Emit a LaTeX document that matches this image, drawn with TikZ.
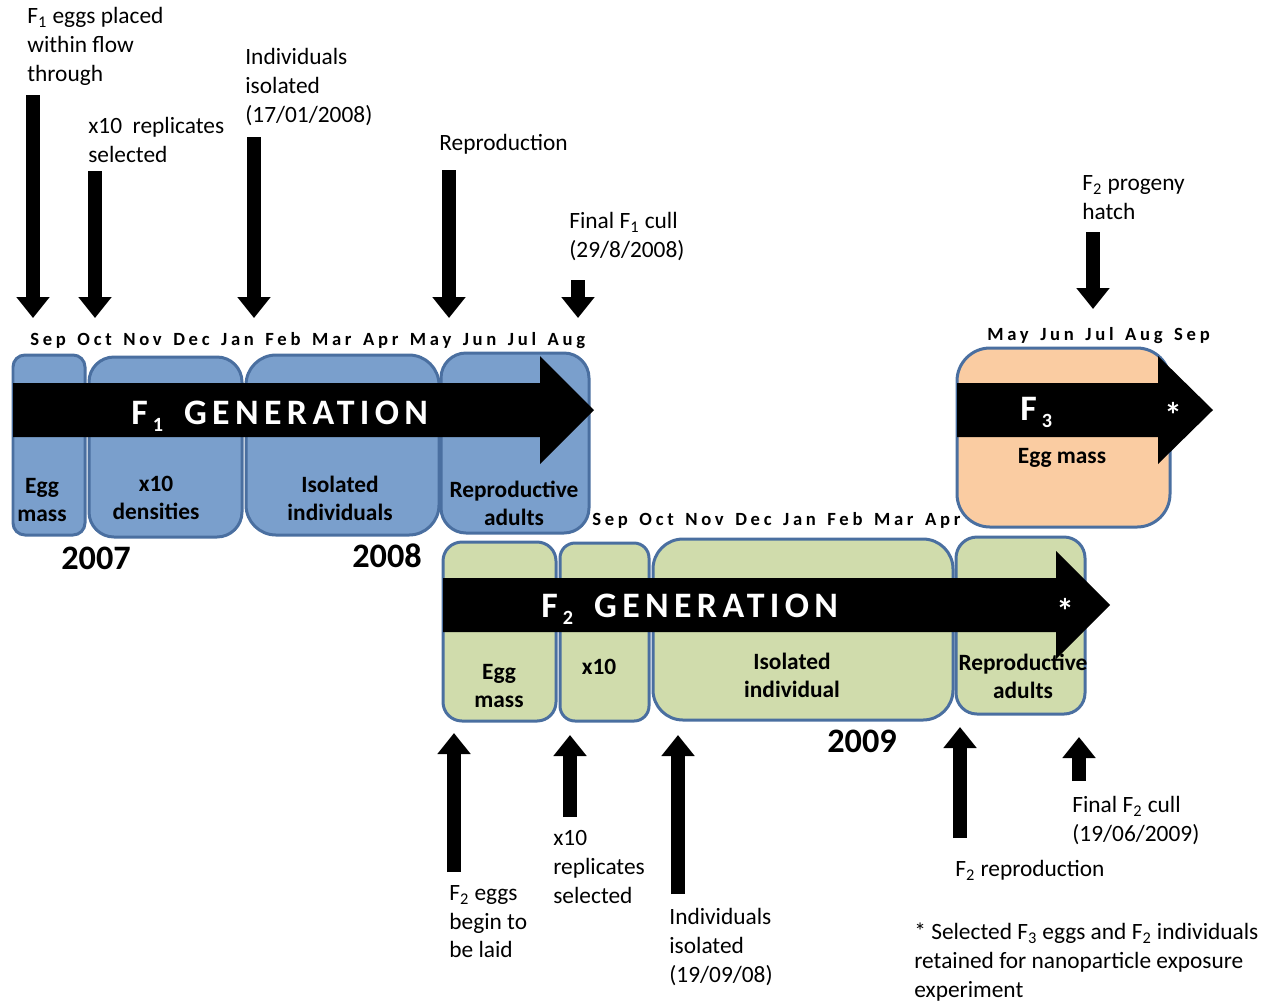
\documentclass[tikz,border=0pt]{standalone}
\usepackage{fontspec}
\setmainfont{Carlito}
\newfontfamily\widefont[LetterSpace=15]{Carlito}
\newfontfamily\monthfont[LetterSpace=20,WordSpace=1.45]{Carlito}
\usetikzlibrary{arrows.meta,fit}
\definecolor{edgeblue}{RGB}{74,111,160}
\definecolor{fillblue}{RGB}{122,159,204}
\definecolor{fillgreen}{RGB}{208,220,172}
\definecolor{fillorange}{RGB}{250,204,162}
\newcommand{\gsub}[1]{\kern0.1cm\raisebox{-4.5pt}{\fontsize{11.5}{12}\selectfont #1}}

\begin{document}
\begin{tikzpicture}[x=0.02cm,y=-0.02cm,
		box/.style={draw=edgeblue,line width=0.06cm,inner sep=0pt},
		dnarrow/.style={line width=0.28cm,-{Triangle[length=0.42cm,width=0.64cm]}},
		lbl/.style={anchor=north west,inner sep=0pt,align=left,font=\fontsize{13.3}{16.4}\selectfont},
		blbl/.style={inner sep=0pt,align=center,font=\bfseries\fontsize{13.3}{15.9}\selectfont},
		mon/.style={anchor=base west,inner sep=0pt,font=\monthfont\bfseries\fontsize{10.6}{12}\selectfont},
		year/.style={inner sep=0pt,font=\bfseries\fontsize{19.5}{22}\selectfont},
		gtxt/.style={anchor=base west,text=white,inner sep=0pt,font=\widefont\bfseries\fontsize{20.4}{24}\selectfont},
		star/.style={text=white,inner sep=0pt,font=\bfseries\fontsize{20}{22}\selectfont}]
				\path[use as bounding box] (0,0) rectangle (1267,1002);
				% the stage boxes of each generation
				\foreach \nm/\xa/\ya/\xb/\yb/\rr in {fAegg/13/355/85/535/0.24, fAten/89/357/242/537/0.5,
						fAiso/246/355/439/535/0.6, fArep/441/353/589/533/0.5}
					\node[box,fill=fillblue,rounded corners=\rr cm,fit={(\xa,\ya) (\xb,\yb)}] (\nm) {};
				\foreach \nm/\xa/\ya/\xb/\yb/\rr in {fBegg/443/542/556/721/0.38, fBten/560/543/649/721/0.3,
						fBiso/653/539/953/720/0.6, fBrep/956/537/1085/714/0.42}
					\node[box,fill=fillgreen,rounded corners=\rr cm,fit={(\xa,\ya) (\xb,\yb)}] (\nm) {};
				\node[box,fill=fillorange,rounded corners=0.66cm,fit={(957,348) (1170,527)}] (fCegg) {};
				% the black generation arrows
				\fill (13,383) -- (540,383) -- (540,356) -- (594,410) -- (540,464) -- (540,437) -- (13,437) -- cycle;
				\fill (443,578) -- (1056,578) -- (1056,551) -- (1110,605) -- (1056,659) -- (1056,632) -- (443,632) -- cycle;
				\fill (957,383) -- (1158,383) -- (1158,356) -- (1213,410) -- (1158,464) -- (1158,437) -- (957,437) -- cycle;
				\node[gtxt] (gA) at (131,424) {F\gsub{1}\hspace{0.42cm}GENERATION};
				\node[gtxt] (gB) at (541,617) {F\gsub{2}\hspace{0.42cm}GENERATION};
				\node[gtxt] (gC) at (1020,420) {F\gsub{3}};
				\node[star] (stB) at (1065,611) {*};
				\node[star] (stC) at (1173,415) {*};
				% stage names
				\node[blbl] (tAegg) at (42,500) {Egg\\mass};
				\node[blbl] (tAten) at (156,498) {x10\\densities};
				\node[blbl] (tAiso) at (340,498) {Isolated\\individuals};
				\node[blbl] (tArep) at (514,503) {Reproductive\\adults};
				\node[blbl] (tBegg) at (499,686) {Egg\\mass};
				\node[blbl] (tBten) at (599,667) {x10};
				\node[blbl] (tBiso) at (792,675) {Isolated\\individual};
				\node[blbl] (tBrep) at (1023,676) {Reproductive\\adults};
				\node[blbl] (tCegg) at (1062,458) {Egg mass};
				% months and years
				\node[mon] (mA) at (30,345) {Sep Oct Nov Dec Jan Feb Mar Apr May Jun Jul Aug};
				\node[mon] (mB) at (592,525) {Sep Oct Nov Dec Jan Feb Mar Apr};
				\node[mon] (mC) at (987,340) {May Jun Jul Aug Sep};
				\node[year] (yA) at (96,558) {2007};
				\node[year] (yB) at (387,556) {2008};
				\node[year] (yC) at (862,741) {2009};
				% events above and below the timeline
				\foreach \nm/\xx/\ya/\yb in {dA/33/95/318, dB/95/171/318, dC/254/137/318, dD/449/170/318,
						dE/578/280/318, dF/1093/232/309, uA/454/872/733, uB/570/817/735, uC/678/894/735,
						uD/960/838/727, uE/1079/781/737}
					{
					\coordinate (\nm s) at (\xx,\ya);
					\coordinate (\nm e) at (\xx,\yb);
					\draw[dnarrow] (\nm s) -- (\nm e);
					}
				\node[lbl] (lA) at (27,7) {F\textsubscript{1} eggs placed\\within flow\\through};
				\node[lbl] (lB) at (88,117) {x10~~replicates\\selected};
				\node[lbl] (lC) at (245,48) {Individuals\\isolated\\(17/01/2008)};
				\node[lbl] (lD) at (439,134) {Reproduction};
				\node[lbl] (lE) at (569,212) {Final F\textsubscript{1} cull\\(29/8/2008)};
				\node[lbl] (lF) at (1082,175) {F\textsubscript{2} progeny\\hatch};
				\node[lbl] (lG) at (449,885) {F\textsubscript{2} eggs\\begin to\\be laid};
				\node[lbl] (lH) at (553,830) {x10\\replicates\\selected};
				\node[lbl] (lI) at (669,908) {Individuals\\isolated\\(19/09/08)};
				\node[lbl] (lJ) at (955,860) {F\textsubscript{2} reproduction};
				\node[lbl] (lK) at (1072,796) {Final F\textsubscript{2} cull\\(19/06/2009)};
				\node[lbl] (note) at (914,923) {* Selected F\textsubscript{3} eggs and F\textsubscript{2} individuals\\retained for nanoparticle exposure\\experiment};
			\end{tikzpicture}
\end{document}
